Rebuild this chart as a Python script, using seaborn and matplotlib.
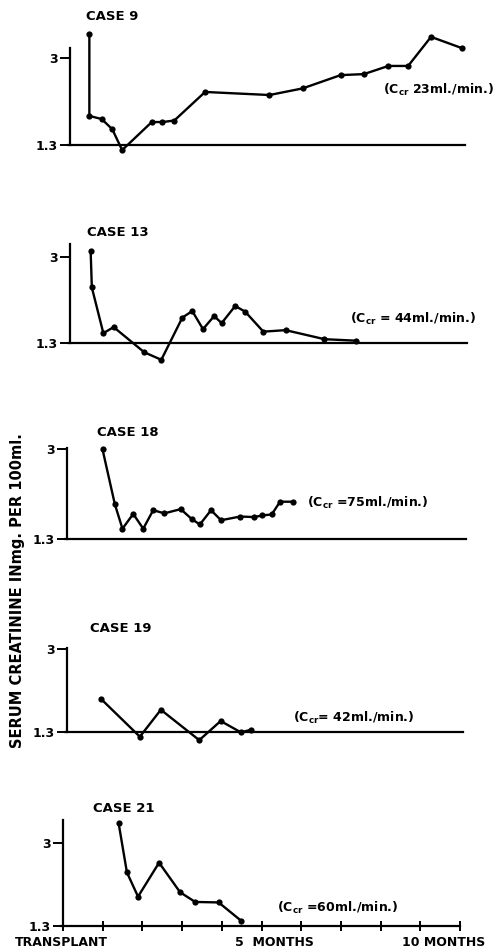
import matplotlib
matplotlib.use("Agg")
import matplotlib.pyplot as plt
import seaborn as sns
import pandas as pd

sns.set_style("ticks")
plt.rcParams['font.family'] = ['DejaVu Sans']
plt.rcParams['font.weight'] = 'bold'
plt.rcParams['mathtext.default'] = 'bf'
for k in ['text.color', 'axes.labelcolor', 'xtick.color', 'ytick.color', 'axes.edgecolor']:
    plt.rcParams[k] = 'black'

# ---- data (months after transplant, serum creatinine mg/100ml) ----
case9_months = [0.49, 0.49, 0.80, 1.07, 1.32, 2.07, 2.34, 2.64, 3.42, 5.05, 5.89, 6.85, 7.44, 8.06, 8.56, 9.14, 9.92]
case9_values = [3.47, 1.87, 1.81, 1.61, 1.20, 1.75, 1.75, 1.78, 2.34, 2.28, 2.41, 2.67, 2.69, 2.85, 2.85, 3.42, 3.20]

case13_months = [0.52, 0.55, 0.84, 1.10, 1.87, 2.30, 2.83, 3.08, 3.35, 3.63, 3.82, 4.16, 4.41, 4.87, 5.43, 6.41, 7.20]
case13_values = [3.13, 2.40, 1.49, 1.61, 1.11, 0.96, 1.80, 1.93, 1.57, 1.83, 1.69, 2.03, 1.92, 1.52, 1.55, 1.37, 1.34]

case18_months = [0.89, 1.20, 1.39, 1.66, 1.91, 2.16, 2.44, 2.85, 3.13, 3.33, 3.61, 3.86, 4.34, 4.69, 4.89, 5.13, 5.34, 5.66]
case18_values = [3.00, 1.96, 1.50, 1.78, 1.50, 1.85, 1.79, 1.87, 1.68, 1.58, 1.85, 1.66, 1.73, 1.72, 1.75, 1.77, 2.01, 2.01]

case19_months = [0.86, 1.84, 2.37, 3.34, 3.88, 4.39, 4.64]
case19_values = [1.98, 1.21, 1.76, 1.14, 1.53, 1.30, 1.35]

case21_months = [1.40, 1.61, 1.89, 2.42, 2.95, 3.33, 3.92, 4.49]
case21_values = [3.42, 2.40, 1.90, 2.60, 1.99, 1.79, 1.78, 1.40]

case_titles = ["CASE 9", "CASE 13", "CASE 18", "CASE 19", "CASE 21"]
ccr_labels = [r"(C$_{cr}$ 23ml./min.)", r"(C$_{cr}$ = 44ml./min.)", r"(C$_{cr}$ =75ml./min.)",
              r"(C$_{cr}$= 42ml./min.)", r"(C$_{cr}$ =60ml./min.)"]
ytick_values = [1.3, 3]
ytick_labels = ["1.3", "3"]
x_labels = ["TRANSPLANT", "5  MONTHS", "10 MONTHS"]
y_label = "SERUM CREATININE INmg. PER 100ml."

series = [(case9_months, case9_values), (case13_months, case13_values), (case18_months, case18_values),
          (case19_months, case19_values), (case21_months, case21_values)]

# ---- layout (pixels) ----
W, H = 500, 950
panels = [
    dict(l=70, r=465, y13=145.0, y3=58.3, top=3.2, title=(86, 16), ccr=(383, 90)),
    dict(l=70, r=467, y13=342.7, y3=257.3, top=3.26, title=(87, 233), ccr=(350, 319)),
    dict(l=67, r=466, y13=539.3, y3=449.3, top=3.02, title=(97, 432), ccr=(307, 503)),
    dict(l=67, r=463, y13=732.3, y3=649.0, top=3.02, title=(90, 628), ccr=(293, 718)),
    dict(l=63, r=460, y13=925.7, y3=843.3, top=3.49, title=(93, 808), ccr=(277, 908)),
]
YLO, YHI = 0.8, 3.7

fig = plt.figure(figsize=(5, 9.5), dpi=100)
for i, (p, (xm, yv)) in enumerate(zip(panels, series)):
    s = (p['y13'] - p['y3']) / 1.7
    bot_px = p['y13'] + (1.3 - YLO) * s
    top_px = p['y3'] - (YHI - 3.0) * s
    ax = fig.add_axes([p['l'] / W, 1 - bot_px / H, (p['r'] - p['l']) / W, (bot_px - top_px) / H])
    ax.set_facecolor('none')
    df = pd.DataFrame({"month": xm, "creat": yv})
    sns.lineplot(data=df, x="month", y="creat", ax=ax, estimator=None, sort=False,
                 color="black", linewidth=1.7, marker="o", markersize=4.5,
                 markeredgewidth=0, clip_on=False)
    ax.set_xlim(0, 10)
    ax.set_ylim(YLO, YHI)
    ax.set_xlabel("")
    ax.set_ylabel("")
    for side in ["top", "right"]:
        ax.spines[side].set_visible(False)
    ax.spines["left"].set_bounds(1.3, p['top'])
    ax.spines["bottom"].set_position(("data", 1.3))
    ax.spines["bottom"].set_bounds(-0.05, 10)
    for side in ["left", "bottom"]:
        ax.spines[side].set_linewidth(1.6)
        ax.spines[side].set_color("black")
    ax.set_yticks(ytick_values)
    ax.set_yticklabels(ytick_labels, fontsize=9, fontweight="bold")
    ax.tick_params(axis="y", length=7, width=1.4, pad=2)
    if i == len(panels) - 1:
        ax.set_xticks(range(0, 11))
        ax.set_xticklabels([""] * 11)
        ax.tick_params(axis="x", direction="inout", length=7, width=1.4)
    else:
        ax.set_xticks([])
    fig.text(p['title'][0] / W, 1 - p['title'][1] / H, case_titles[i],
             fontsize=9.5, fontweight="bold", va="center", ha="left")
    fig.text(p['ccr'][0] / W, 1 - p['ccr'][1] / H, ccr_labels[i],
             fontsize=9, fontweight="bold", va="center", ha="left")

fig.text(15 / W, 1 - 943 / H, x_labels[0], fontsize=9, fontweight="bold", va="center", ha="left")
fig.text(235 / W, 1 - 943 / H, x_labels[1], fontsize=9, fontweight="bold", va="center", ha="left")
fig.text(485 / W, 1 - 943 / H, x_labels[2], fontsize=9, fontweight="bold", va="center", ha="right")
fig.text(18 / W, 1 - 591 / H, y_label, fontsize=10.5, fontweight="bold", rotation=90,
         va="center", ha="center")

fig.savefig("out.png", dpi=100, facecolor="white")
